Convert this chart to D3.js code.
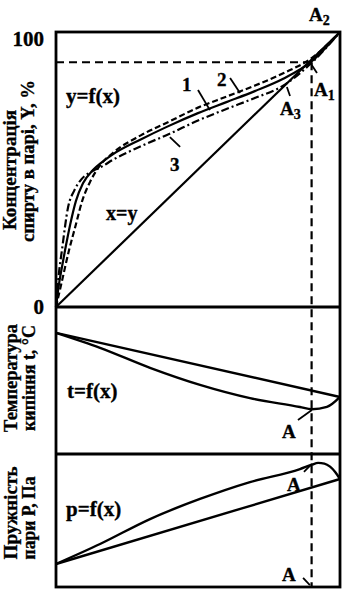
<!DOCTYPE html>
<html>
<head>
<meta charset="utf-8">
<script src="https://cdn.jsdelivr.net/npm/d3@7"></script>
<style>
  body { margin: 0; background: #fff; }
  svg text { font-family: "Liberation Serif", "Times New Roman", serif; font-weight: bold; fill: #000; stroke: #000; stroke-width: 0.35; }
</style>
</head>
<body>
<div id="chart"></div>
<script>
// x - концентрація спирту в рідині, %
// y=f(x): криві рівноваги пари та рідини
const curve1 = [[0,0],[1,8],[2,14],[3.2,20.7],[5,30],[7,38.5],[9.5,45],[13,49.8],[16,52.5],[20,55.5],[30,61],[39,65.5],[50,70.5],[60,74.5],[70,78.5],[80,83],[90,89.3],[100,100]];
const curve2 = [[0,0],[2,9],[4.6,20.7],[7,30],[9.2,38.5],[12,45.5],[15.5,51.5],[20,56],[30,62.5],[40,67.5],[50,72.5],[60,76.5],[70,80.5],[80,85],[90,90.5],[100,100]];
const curve3 = [[0,0],[1,12],[2.1,20.7],[4.2,36],[6.5,42.5],[9,46.5],[13,49.5],[16,51],[20,53.5],[30,58.5],[40,63],[50,67.8],[60,72],[70,76],[80,80.5],[90,88.8],[100,100]];
const diagonal = [[0,0],[100,100]];

// t=f(x): температура кипіння, °C
const tLiquid = [[0,101.2],[15.5,96.1],[33.1,89.3],[50.7,83.5],[68.3,79.0],[85.9,76.0],[90.1,75.2],[95.4,76.0],[100,79.4]];
const tVapour = [[0,101.2],[100,79.4]];

// p=f(x): пружність пари
const pReal = [[0,17.3],[15.5,32.3],[33.1,51.1],[50.7,66.2],[68.3,78.9],[85.9,88.7],[90.1,92],[92.3,93.3],[94.5,92.8],[96.5,90.5],[98.3,86.5],[100,81.2]];
const pIdeal = [[0,17.3],[100,81.2]];

// азеотропна точка
const azeoX = 90;
const azeoY = 89;

const yTicks = ["0", "100"];

// pointers for labels, in data units [x1, y1, x2, y2]
const ptrTop = [[50,78.9,54.2,71.6],[61.3,83.3,64.8,77.8],[43.7,58.2,40.1,61.8],[91.9,85.1,89.8,88.4],[82.4,76.7,81.3,80]];
const ptrMid = [[85.2,71.6,90.1,75.0]];
const ptrBot = [[87.3,86.5,90.1,92.5],[87,6.8,89.4,1.5]];

const W = 351, H = 591;
const svg = d3.select("#chart").append("svg").attr("width", W).attr("height", H);

const x = d3.scaleLinear().domain([0, 100]).range([56, 340]);
const yTop = d3.scaleLinear().domain([0, 100]).range([307, 32]);
const yT = d3.scaleLinear().domain([60, 110]).range([454, 307]);
const yP = d3.scaleLinear().domain([0, 100]).range([587, 454]);

const lineOf = y => d3.line().x(d => x(d[0])).y(d => y(d[1])).curve(d3.curveMonotoneX);

// frames
const frame = svg.append("g").attr("fill", "none").attr("stroke", "#000").attr("stroke-width", 2.8);
frame.append("rect")
    .attr("x", x(0)).attr("y", yTop(100))
    .attr("width", x(100) - x(0)).attr("height", yP(0) - yTop(100));
frame.append("line").attr("x1", x(0)).attr("x2", x(100)).attr("y1", yTop(0)).attr("y2", yTop(0));
frame.append("line").attr("x1", x(0)).attr("x2", x(100)).attr("y1", yP(100)).attr("y2", yP(100));

// dashed guides to azeotrope
const guides = svg.append("g").attr("stroke", "#000").attr("stroke-width", 2.2).attr("stroke-dasharray", "8,5").attr("fill", "none");
guides.append("line").attr("x1", x(0)).attr("x2", x(azeoX)).attr("y1", yTop(azeoY)).attr("y2", yTop(azeoY));
guides.append("line").attr("x1", x(azeoX)).attr("x2", x(azeoX)).attr("y1", yTop(azeoY)).attr("y2", yP(0));

// top panel curves
const gTop = svg.append("g").attr("fill", "none").attr("stroke", "#000");
gTop.append("path").attr("d", lineOf(yTop)(diagonal)).attr("stroke-width", 2.2);
gTop.append("path").attr("d", lineOf(yTop)(curve1)).attr("stroke-width", 2.2);
gTop.append("path").attr("d", lineOf(yTop)(curve2)).attr("stroke-width", 2.2).attr("stroke-dasharray", "6,3");
gTop.append("path").attr("d", lineOf(yTop)(curve3)).attr("stroke-width", 2.2).attr("stroke-dasharray", "8,3,2,3");

// middle panel
const gMid = svg.append("g").attr("fill", "none").attr("stroke", "#000").attr("stroke-width", 2.4);
gMid.append("path").attr("d", lineOf(yT)(tVapour));
gMid.append("path").attr("d", lineOf(yT)(tLiquid));

// bottom panel
const gBot = svg.append("g").attr("fill", "none").attr("stroke", "#000").attr("stroke-width", 2.4);
gBot.append("path").attr("d", lineOf(yP)(pIdeal));
gBot.append("path").attr("d", lineOf(yP)(pReal));

// pointers
function pointers(data, y) {
    svg.append("g").attr("stroke", "#000").attr("stroke-width", 1.8)
        .selectAll("line").data(data).join("line")
        .attr("x1", d => x(d[0])).attr("y1", d => y(d[1]))
        .attr("x2", d => x(d[2])).attr("y2", d => y(d[3]));
}
pointers(ptrTop, yTop);
pointers(ptrMid, yT);
pointers(ptrBot, yP);

// tick labels
svg.append("text").attr("x", 44).attr("y", 46).attr("text-anchor", "end").style("font-size", "21px").text(yTicks[1]);
svg.append("text").attr("x", 44).attr("y", 314).attr("text-anchor", "end").style("font-size", "21px").text(yTicks[0]);

// labels
function label(tx, ty, s, size, sub) {
    const t = svg.append("text").attr("x", tx).attr("y", ty).style("font-size", size + "px").text(s);
    if (sub) t.append("tspan").attr("dy", 4).style("font-size", (size - 5) + "px").text(sub);
    return t;
}
label(66, 103, "y=f(x)", 21);
label(106, 220, "x=y", 20);
label(182, 91, "1", 19);
label(217, 86, "2", 19);
label(170, 171, "3", 19);
label(309, 21, "A", 19, "2");
label(314, 96, "A", 19, "1");
label(280, 115, "A", 19, "3");
label(67, 398, "t=f(x)", 21);
label(282, 438, "A", 19);
label(66, 516, "p=f(x)", 21);
label(287, 491, "A", 19);
label(282, 581, "A", 19);

// axis titles
function title(cx, cy, s, len) {
    svg.append("text")
        .attr("transform", `translate(${cx},${cy}) rotate(-90)`)
        .attr("text-anchor", "middle")
        .attr("textLength", len).attr("lengthAdjust", "spacingAndGlyphs")
        .style("font-size", "18px")
        .text(s);
}
title(16, 170, "Концентрація", 120);
title(34, 161, "спирту в парі, Y, %", 162);
title(17, 378, "Температура", 108);
title(35, 378, "кипіння t, °C", 106);
title(17, 513, "Пружність", 93);
title(35, 518, "пари Р, Па", 83);
</script>
</body>
</html>
